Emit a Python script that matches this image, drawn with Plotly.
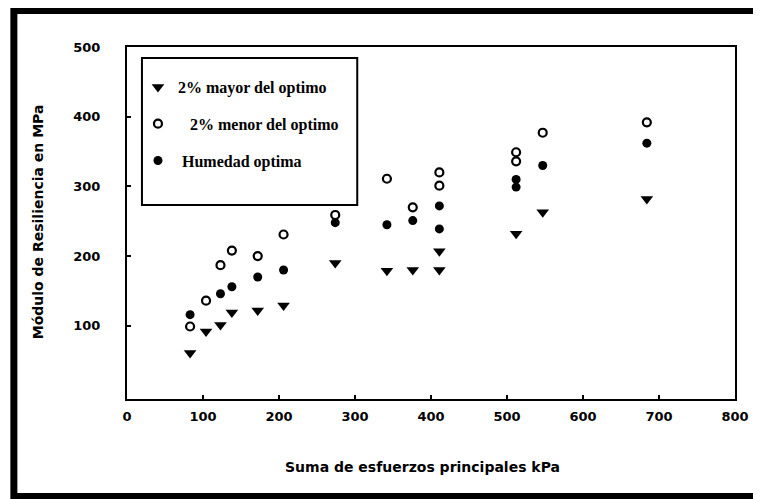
import plotly.graph_objects as go

# --- data ---
x_mayor = [83, 104, 123, 138, 172, 206, 274, 342, 376, 411, 411, 512, 547, 684]
y_mayor = [61, 92, 101, 119, 122, 129, 190, 179, 180, 207, 180, 232, 263, 282]

x_menor = [83, 104, 123, 138, 172, 206, 274, 342, 376, 411, 411, 512, 512, 547, 684]
y_menor = [99, 136, 187, 208, 200, 231, 259, 311, 270, 320, 301, 349, 336, 377, 392]

x_optima = [83, 123, 138, 172, 206, 274, 342, 376, 411, 411, 512, 512, 547, 684]
y_optima = [116, 146, 156, 170, 180, 248, 245, 251, 272, 239, 310, 299, 330, 362]

names = ["2% mayor del optimo", "\u00a0\u00a0\u00a02% menor del optimo", "\u00a0Humedad optima"]
x_ticks = [0, 100, 200, 300, 400, 500, 600, 700, 800]
y_ticks = [100, 200, 300, 400, 500]

fig = go.Figure()
fig.add_trace(go.Scatter(x=x_mayor, y=y_mayor, mode="markers", name=names[0], legendgroup="a",
                         marker=dict(symbol="triangle-down", size=11, color="black")))
fig.add_trace(go.Scatter(x=x_menor, y=y_menor, mode="markers", name=names[1], legendgroup="b",
                         marker=dict(symbol="circle-open", size=8, color="black", line=dict(width=2.2, color="black"))))
fig.add_trace(go.Scatter(x=x_optima, y=y_optima, mode="markers", name=names[2], legendgroup="c",
                         marker=dict(symbol="circle", size=9, color="black")))

# page offset of the figure (default body margin)
O = 8
W, H = 761 - O, 499 - O
L, R, T, B = 127 - O, 24, 47 - O, 100
pw, ph = W - L - R, H - T - B

def px(xp):
    return (xp - O - L) / pw

def py(yp):
    return (H - B - (yp - O)) / ph

tickfont = dict(family="DejaVu Sans", size=13, color="black", weight="bold")

fig.update_layout(
    width=W, height=H,
    margin=dict(l=L, r=R, t=T, b=B),
    paper_bgcolor="white", plot_bgcolor="white",
    showlegend=True,
    legend=dict(x=px(138), y=py(70), xanchor="left", yanchor="top",
                bgcolor="rgba(0,0,0,0)", borderwidth=0,
                font=dict(family="Liberation Serif", size=16, color="black", weight="bold"),
                traceorder="grouped", tracegroupgap=13),
    xaxis=dict(range=[0, 800], tickvals=x_ticks, showgrid=False, zeroline=False,
               showline=True, linecolor="black", linewidth=2, mirror=True,
               ticks="inside", ticklen=4, tickcolor="black", tickwidth=1.5,
               tickfont=tickfont, ticklabelstandoff=4),
    yaxis=dict(range=[-5, 500], tickvals=y_ticks, showgrid=False, zeroline=False,
               showline=True, linecolor="black", linewidth=2, mirror=True,
               ticks="inside", ticklen=4, tickcolor="black", tickwidth=1.5,
               tickfont=tickfont, ticklabelstandoff=22),
    shapes=[
        dict(type="rect", xref="paper", yref="paper", x0=px(13.5), x1=px(790), y0=py(496.5), y1=py(10.5),
             line=dict(color="black", width=7)),
        dict(type="rect", xref="paper", yref="paper", x0=px(142), x1=px(358), y0=py(205), y1=py(58),
             line=dict(color="black", width=2)),
    ],
    annotations=[
        dict(text="Suma de esfuerzos principales kPa", xref="paper", yref="paper",
             x=px(423), y=py(467), showarrow=False, xanchor="center", yanchor="middle",
             font=dict(family="DejaVu Sans", size=14, color="black", weight="bold")),
        dict(text="Módulo de Resiliencia en MPa", xref="paper", yref="paper",
             x=px(38), y=py(222), showarrow=False, xanchor="center", yanchor="middle", textangle=-90,
             font=dict(family="DejaVu Sans", size=14, color="black", weight="bold")),
    ],
)

fig.write_html("out.html")
